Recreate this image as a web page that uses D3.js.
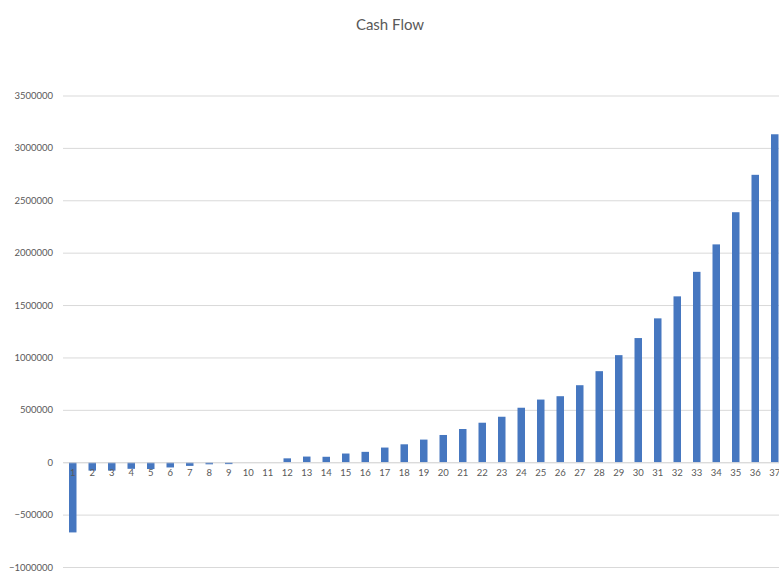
<!DOCTYPE html>
<html>
<head>
<meta charset="utf-8">
<script src="https://cdn.jsdelivr.net/npm/d3@7"></script>
<style>
  body { margin: 0; background: #fff; }
  svg { display: block; font-family: Lato, "Open Sans", sans-serif; }
</style>
</head>
<body>
<div id="viz"></div>
<script>
// chart data
const periods = d3.range(1, 38).map(String);
const cashFlow = [
  -670000, -80000, -80000, -63000, -65000, -50000, -35000, -20000, -18000, 0,
  0, 37000, 54000, 52000, 83000, 99000, 140000, 171000, 216000, 260000,
  317000, 377000, 434000, 520000, 598000, 630000, 735000, 869000, 1022000, 1185000,
  1373000, 1583000, 1817000, 2079000, 2386000, 2743000, 3130000
];
const yTicks = [-1000000, -500000, 0, 500000, 1000000, 1500000, 2000000, 2500000, 3000000, 3500000];

const F_WIDTH = 779;
const F_HEIGHT = 575;
const PLOT = {left: 63, right: 784.5, top: 95.5, bottom: 567};

const FRAME = d3.select("#viz")
  .append("svg")
    .attr("width", F_WIDTH)
    .attr("height", F_HEIGHT);

const X_SCALE = d3.scaleBand()
  .domain(periods)
  .range([PLOT.left, PLOT.right]);

const Y_SCALE = d3.scaleLinear()
  .domain([-1000000, 3500000])
  .range([PLOT.bottom, PLOT.top]);

// title
FRAME.append("text")
  .attr("x", 390)
  .attr("y", 30)
  .attr("text-anchor", "middle")
  .style("font-size", "15px")
  .style("fill", "#595959")
  .text("Cash Flow");

// gridlines + y labels
const yAxis = FRAME.append("g")
  .attr("transform", "translate(" + PLOT.left + ",0)")
  .call(d3.axisLeft(Y_SCALE)
    .tickValues(yTicks)
    .tickSize(-(F_WIDTH - PLOT.left))
    .tickPadding(10)
    .tickFormat(d3.format("d")));
yAxis.select(".domain").remove();
yAxis.selectAll("line").attr("stroke", "#d9d9d9").attr("stroke-width", 1);
yAxis.selectAll("text")
  .style("font-size", "9.5px")
  .style("fill", "#595959")
  .style("font-family", "Lato, 'Open Sans', sans-serif");

// bars
FRAME.selectAll(".bar")
  .data(cashFlow)
  .enter()
  .append("rect")
    .attr("class", "bar")
    .attr("x", (d, i) => X_SCALE(periods[i]) + X_SCALE.bandwidth() / 2 - 3.75)
    .attr("y", (d) => Y_SCALE(Math.max(0, d)))
    .attr("width", 7.5)
    .attr("height", (d) => Math.abs(Y_SCALE(d) - Y_SCALE(0)))
    .style("fill", "#4677c0");

// category labels sit just below the zero line
const xAxis = FRAME.append("g")
  .attr("transform", "translate(0," + Y_SCALE(0) + ")")
  .call(d3.axisBottom(X_SCALE).tickSize(0).tickPadding(7));
xAxis.select(".domain").attr("stroke", "#d9d9d9");
xAxis.selectAll("text")
  .style("font-size", "9.5px")
  .style("fill", "#595959")
  .style("font-family", "Lato, 'Open Sans', sans-serif");
</script>
</body>
</html>
